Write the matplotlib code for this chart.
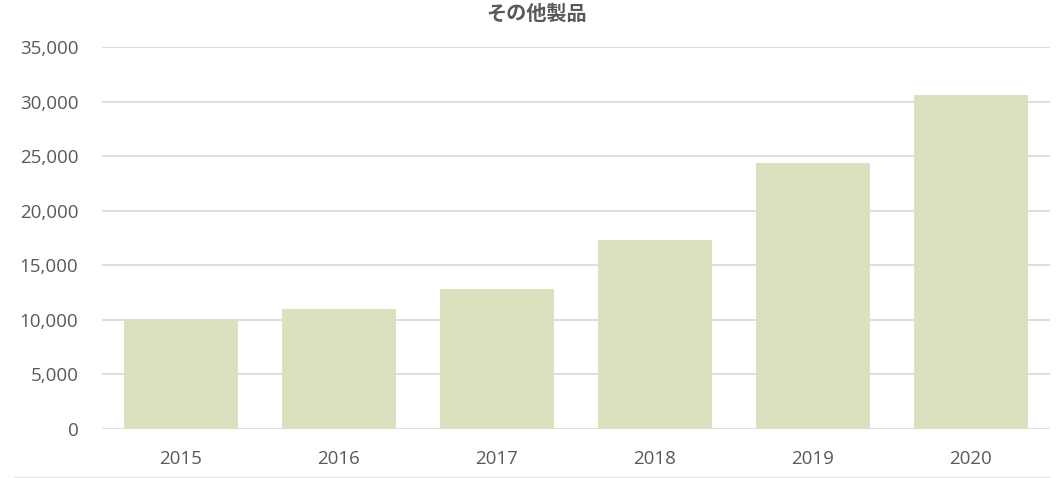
import matplotlib
matplotlib.use("Agg")
import matplotlib.pyplot as plt
from matplotlib.ticker import FuncFormatter, MultipleLocator
from matplotlib.lines import Line2D

title = "その他製品"
years = ["2015", "2016", "2017", "2018", "2019", "2020"]
values = [10000, 11000, 12800, 17300, 24400, 30600]

bar_color = "#d9e1be"
grid_color = "#dedede"
text_color = "#595959"

fig = plt.figure(figsize=(10.64, 4.78), dpi=100)
ax = fig.add_axes([102 / 1064, 1 - 429 / 478, (1050 - 102) / 1064, (429 - 47) / 478])

x = list(range(len(years)))
ax.bar(x, values, width=0.72, color=bar_color, zorder=2)

ax.set_xlim(-0.5, len(years) - 0.5)
ax.set_ylim(0, 35000)
ax.yaxis.set_major_locator(MultipleLocator(5000))
ax.yaxis.set_major_formatter(FuncFormatter(lambda v, p: f"{int(v):,}"))
ax.set_xticks(x)
ax.set_xticklabels(years)

for s in ["top", "right", "left", "bottom"]:
    ax.spines[s].set_visible(False)
ax.grid(axis="y", color=grid_color, linewidth=1.4, zorder=0)
ax.set_axisbelow(True)
ax.axhline(0, color=grid_color, linewidth=1.4, zorder=1)

ax.tick_params(axis="both", length=0, labelcolor=text_color, labelsize=13.5)
ax.tick_params(axis="y", pad=17)
ax.tick_params(axis="x", pad=15)
for lab in ax.get_xticklabels() + ax.get_yticklabels():
    lab.set_fontfamily(["Open Sans", "DejaVu Sans"])
    lab.set_fontweight("medium")

fig.text(537 / 1064, 1 - 13 / 478, title, ha="center", va="center",
         fontsize=14.5, fontweight="bold", color=text_color,
         family=["Noto Sans CJK JP", "DejaVu Sans"])

fig.add_artist(Line2D([14 / 1064, 1050 / 1064], [1 - 477 / 478] * 2,
                      transform=fig.transFigure, color="#e6e6e6", linewidth=1.0))

fig.savefig("out.png", dpi=100)
